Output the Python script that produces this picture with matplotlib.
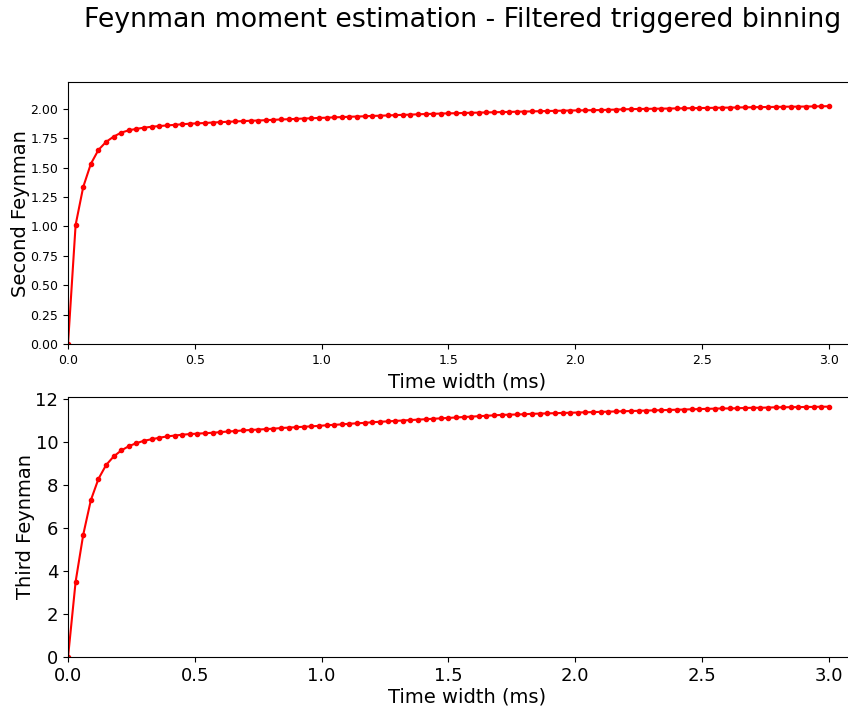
import matplotlib
matplotlib.use('Agg')
import matplotlib.pyplot as plt
import numpy as np

# time widths (ms), step 0.03
time_width = np.round(np.arange(101) * 0.03, 2)

second_feynman = [
    0.000, 1.013, 1.336, 1.532, 1.651, 1.719, 1.764, 1.798, 1.818, 1.830,
    1.840, 1.848, 1.854, 1.859, 1.864, 1.869, 1.874, 1.877, 1.880, 1.884,
    1.887, 1.890, 1.893, 1.896, 1.899, 1.901, 1.904, 1.907, 1.910, 1.912,
    1.915, 1.918, 1.920, 1.923, 1.925, 1.928, 1.930, 1.933, 1.935, 1.937,
    1.940, 1.942, 1.944, 1.947, 1.949, 1.951, 1.954, 1.956, 1.958, 1.960,
    1.962, 1.963, 1.965, 1.967, 1.968, 1.970, 1.971, 1.973, 1.974, 1.976,
    1.977, 1.979, 1.980, 1.982, 1.983, 1.985, 1.986, 1.987, 1.988, 1.989,
    1.990, 1.992, 1.994, 1.996, 1.998, 1.999, 2.000, 2.001, 2.002, 2.003,
    2.004, 2.005, 2.006, 2.007, 2.008, 2.009, 2.010, 2.011, 2.012, 2.013,
    2.014, 2.015, 2.016, 2.017, 2.018, 2.019, 2.019, 2.020, 2.021, 2.022,
    2.023,
]

third_feynman = [
    0.00, 3.51, 5.69, 7.29, 8.28, 8.92, 9.32, 9.60, 9.80, 9.94,
    10.05, 10.12, 10.19, 10.25, 10.29, 10.33, 10.36, 10.38, 10.40, 10.42,
    10.45, 10.48, 10.50, 10.53, 10.55, 10.57, 10.59, 10.61, 10.64, 10.66,
    10.68, 10.70, 10.72, 10.74, 10.77, 10.79, 10.81, 10.84, 10.86, 10.88,
    10.91, 10.93, 10.95, 10.97, 10.99, 11.01, 11.03, 11.05, 11.07, 11.09,
    11.11, 11.13, 11.15, 11.17, 11.19, 11.21, 11.23, 11.25, 11.26, 11.27,
    11.28, 11.30, 11.31, 11.32, 11.33, 11.34, 11.35, 11.36, 11.37, 11.38,
    11.39, 11.40, 11.41, 11.42, 11.43, 11.44, 11.45, 11.46, 11.47, 11.48,
    11.49, 11.50, 11.51, 11.52, 11.53, 11.54, 11.55, 11.55, 11.56, 11.57,
    11.58, 11.58, 11.59, 11.60, 11.60, 11.61, 11.61, 11.62, 11.62, 11.63,
    11.63,
]

fig = plt.figure(figsize=(8.48, 7.09), dpi=100)
# original figure was wider and got cropped, so the title sits right of centre
fig.suptitle('Feynman moment estimation - Filtered triggered binning',
             fontsize=19.3, x=0.545, y=0.99)

# axes run past the right edge, like the cropped original
ax1 = fig.add_axes([0.0802, 0.5148, 0.942, 0.369])
ax1.plot(time_width, second_feynman, 'r.-', markersize=6, linewidth=1.5)
ax1.set_xlim(0, 3.15)
ax1.set_ylim(0, 1.1 * max(second_feynman))
ax1.set_ylabel('Second Feynman', fontsize=14, labelpad=0)
ax1.set_xlabel('Time width (ms)', fontsize=14)
ax1.tick_params(labelsize=9)

ax2 = fig.add_axes([0.0802, 0.0729, 0.942, 0.3676])
ax2.plot(time_width, third_feynman, 'r.-', markersize=6, linewidth=1.5)
ax2.set_xlim(0, 3.15)
ax2.set_ylim(0, 1.04 * max(third_feynman))
ax2.set_ylabel('Third Feynman', fontsize=14, labelpad=0)
ax2.set_xlabel('Time width (ms)', fontsize=14, labelpad=2)
ax2.tick_params(labelsize=13)

plt.savefig('out.png', dpi=100)
plt.close()
